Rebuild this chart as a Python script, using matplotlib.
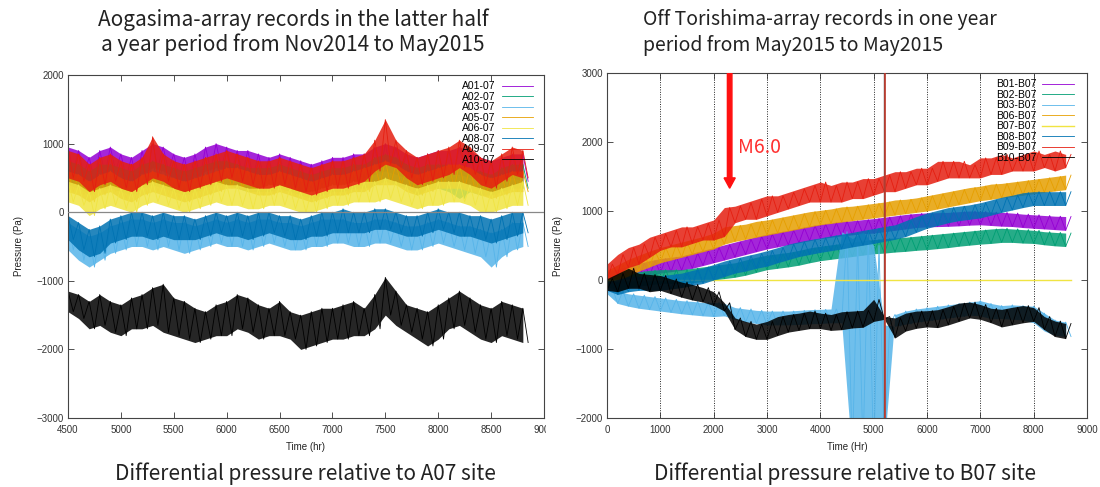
import numpy as np
import matplotlib
matplotlib.use('Agg')
import matplotlib.pyplot as plt
from matplotlib.patches import Rectangle

plt.rcParams['font.family'] = ['Liberation Sans', 'DejaVu Sans']

## Colours (gnuplot default palette)
colors = ['#9400d3', '#009e73', '#56b4e9', '#e69f00', '#f0e442', '#0072b2', '#e51e10', '#000000']

## ---------- Left panel: Aogasima array, 4500-8850 hr (50 hr steps) ----------
left_labels = ['A01-07', 'A02-07', 'A03-07', 'A05-07', 'A06-07', 'A08-07', 'A09-07', 'A10-07']
left_xticks = [4500, 5000, 5500, 6000, 6500, 7000, 7500, 8000, 8500, 9000]
left_yticks = [-3000, -2000, -1000, 0, 1000, 2000]

a01 = [950, 600, 900, 550, 800, 450, 900, 550, 950, 600,
       850, 500, 800, 450, 900, 550, 1000, 650, 950, 600,
       850, 500, 800, 450, 850, 500, 950, 600, 1000, 650,
       950, 600, 900, 550, 900, 500, 850, 500, 800, 450,
       850, 500, 800, 450, 750, 400, 700, 350, 750, 400,
       800, 450, 800, 450, 850, 500, 850, 500, 950, 550,
       1000, 600, 950, 550, 850, 500, 800, 450, 850, 500,
       900, 550, 900, 550, 950, 550, 900, 500, 800, 450,
       750, 400, 800, 450, 850, 500, 850, 450]
a02 = [750, 400, 700, 350, 600, 250, 700, 350, 700, 350,
       650, 300, 600, 250, 700, 350, 750, 400, 700, 350,
       650, 300, 600, 250, 650, 300, 700, 350, 750, 400,
       750, 400, 700, 350, 650, 300, 650, 300, 650, 300,
       700, 350, 650, 300, 600, 250, 550, 200, 600, 250,
       650, 300, 650, 300, 700, 350, 700, 350, 800, 400,
       850, 450, 800, 400, 700, 350, 650, 250, 700, 350,
       700, 350, 700, 300, 650, 200, 600, 300, 600, 250,
       550, 250, 650, 300, 700, 350, 700, 350]
a03 = [-150, -550, -250, -700, -350, -800, -300, -700, -200, -600,
       -150, -550, -100, -500, -100, -500, -150, -550, -100, -500,
       -150, -550, -150, -600, -200, -550, -150, -500, -100, -450,
       -150, -500, -100, -500, -150, -550, -100, -500, -100, -450,
       -150, -500, -150, -550, -200, -550, -150, -500, -100, -500,
       -100, -450, -100, -450, -150, -500, -150, -500, -100, -450,
       -100, -450, -150, -500, -200, -550, -200, -550, -150, -500,
       -100, -450, -150, -500, -200, -550, -200, -600, -250, -650,
       -300, -800, -250, -650, -150, -550, -150, -500]
a05 = [600, 300, 550, 250, 450, 150, 550, 250, 600, 300,
       500, 200, 450, 150, 550, 250, 600, 300, 550, 250,
       500, 200, 450, 150, 500, 200, 550, 250, 600, 300,
       650, 350, 650, 350, 600, 300, 550, 250, 550, 250,
       600, 300, 550, 250, 500, 200, 450, 150, 500, 200,
       550, 250, 550, 250, 600, 300, 650, 300, 700, 400,
       750, 400, 700, 400, 600, 300, 550, 250, 600, 300,
       650, 350, 700, 350, 700, 350, 650, 300, 550, 250,
       500, 200, 550, 250, 600, 300, 600, 300]
a06 = [450, 150, 400, 100, 300, -50, 350, 50, 400, 100,
       350, 50, 300, 0, 400, 100, 450, 150, 400, 100,
       350, 50, 300, 0, 350, 50, 400, 100, 450, 150,
       400, 100, 400, 100, 350, 50, 350, 50, 400, 100,
       400, 100, 350, 50, 300, 0, 300, 0, 350, 50,
       400, 100, 400, 100, 450, 150, 450, 150, 450, 150,
       500, 200, 450, 150, 400, 100, 350, 50, 400, 100,
       450, 100, 450, 150, 450, 150, 400, 100, 350, 0,
       300, 0, 350, 50, 400, 100, 450, 100]
a08 = [-50, -400, -150, -550, -250, -650, -200, -600, -100, -450,
       -50, -400, 0, -350, 0, -350, -50, -400, 0, -350,
       -50, -400, -50, -400, -100, -400, -50, -350, 0, -300,
       -50, -350, 0, -350, -50, -400, 0, -350, 0, -300,
       -50, -350, -50, -400, -100, -400, -50, -350, 0, -350,
       0, -300, 50, -300, 0, -300, 0, -300, 50, -250,
       50, -250, 0, -300, -50, -350, -50, -350, 0, -300,
       50, -250, 0, -300, 0, -350, -50, -350, -50, -400,
       -100, -450, -50, -400, 0, -350, 0, -300]
a09 = [900, 500, 850, 450, 700, 300, 800, 400, 850, 450,
       750, 350, 700, 300, 800, 400, 1100, 500, 850, 450,
       750, 350, 700, 300, 750, 350, 800, 400, 850, 450,
       900, 500, 850, 450, 800, 400, 750, 350, 750, 350,
       800, 400, 750, 350, 700, 300, 650, 250, 700, 300,
       750, 350, 750, 350, 800, 400, 850, 450, 1050, 600,
       1350, 700, 1050, 650, 900, 500, 800, 400, 850, 450,
       900, 500, 950, 550, 1050, 650, 950, 550, 800, 400,
       750, 350, 850, 450, 950, 550, 900, 500]
a10 = [-1150, -1450, -1200, -1550, -1300, -1700, -1200, -1650, -1300, -1750,
       -1350, -1800, -1250, -1700, -1200, -1700, -1100, -1650, -1050, -1750,
       -1250, -1800, -1300, -1850, -1400, -1900, -1450, -1850, -1350, -1800,
       -1300, -1800, -1200, -1700, -1250, -1750, -1350, -1850, -1400, -1800,
       -1300, -1800, -1450, -1850, -1500, -2000, -1450, -1950, -1400, -1900,
       -1400, -1850, -1350, -1850, -1300, -1800, -1400, -1800, -1200, -1700,
       -950, -1500, -1150, -1650, -1350, -1750, -1400, -1850, -1450, -1950,
       -1350, -1850, -1250, -1700, -1150, -1650, -1250, -1750, -1350, -1850,
       -1400, -1900, -1300, -1800, -1350, -1850, -1400, -1900]
left_series = [a01, a02, a03, a05, a06, a08, a09, a10]

## ---------- Right panel: Off Torishima array, 0-8700 hr (100 hr steps) ----------
right_labels = ['B01-B07', 'B02-B07', 'B03-B07', 'B06-B07', 'B07-B07', 'B08-B07', 'B09-B07', 'B10-B07']
right_xticks = [0, 1000, 2000, 3000, 4000, 5000, 6000, 7000, 8000, 9000]
right_yticks = [-2000, -1000, 0, 1000, 2000, 3000]

b01 = [0, 120, -60, 160, -20, 200, 20, 240, 60, 280,
       100, 310, 120, 330, 140, 350, 170, 390, 210, 430,
       250, 470, 290, 510, 330, 550, 370, 590, 410, 630,
       450, 665, 480, 695, 510, 720, 540, 755, 570, 785,
       600, 810, 620, 830, 640, 850, 655, 860, 670, 875,
       680, 890, 700, 910, 720, 930, 740, 950, 760, 965,
       770, 972, 774, 976, 778, 980, 785, 990, 795, 1000,
       800, 995, 790, 985, 780, 980, 775, 970, 760, 955,
       750, 945, 740, 935, 730, 925, 720, 920]
b02 = [-100, 20, -160, 60, -120, 100, -90, 120, -70, 140,
       -50, 150, -50, 150, -50, 150, -40, 170, -20, 190,
       0, 210, 20, 230, 40, 250, 70, 290, 110, 330,
       150, 360, 170, 380, 190, 400, 215, 430, 250, 465,
       280, 490, 300, 510, 320, 530, 340, 550, 360, 570,
       380, 585, 390, 600, 405, 610, 415, 620, 430, 635,
       440, 650, 455, 665, 470, 680, 490, 695, 505, 710,
       520, 725, 530, 740, 545, 750, 545, 740, 535, 730,
       530, 720, 510, 700, 495, 690, 485, 680]
b03 = [-200, -120, -340, -160, -380, -200, -410, -220, -430, -240,
       -450, -260, -470, -280, -490, -300, -505, -310, -520, -325,
       -530, -325, -520, -340, -570, -400, -610, -420, -630, -440,
       -650, -450, -650, -450, -650, -450, -645, -440, -635, -430,
       -630, -425, -620, -420, -620, 700, -2600, 600, -2500, 700,
       -2600, 500, -2400, -650, -500, -670, -450, -640, -420, -610,
       -400, -590, -380, -570, -360, -550, -340, -530, -320, -510,
       -300, -520, -340, -560, -370, -560, -360, -570, -370, -580,
       -380, -620, -480, -740, -580, -800, -610, -820]
b06 = [0, 140, -20, 220, 60, 300, 130, 360, 190, 420,
       250, 470, 290, 510, 330, 550, 370, 590, 410, 630,
       450, 680, 520, 770, 560, 790, 590, 810, 620, 850,
       650, 870, 680, 900, 710, 930, 740, 960, 770, 990,
       800, 1010, 820, 1030, 840, 1060, 860, 1070, 880, 1090,
       900, 1110, 920, 1130, 940, 1160, 960, 1170, 980, 1190,
       1000, 1220, 1030, 1250, 1060, 1280, 1090, 1310, 1120, 1340,
       1150, 1360, 1170, 1390, 1190, 1400, 1210, 1420, 1230, 1440,
       1250, 1460, 1270, 1480, 1290, 1500, 1310, 1520]
b07 = [0] * 88
b08 = [-150, -30, -210, 10, -170, 50, -150, 50, -150, 50,
       -150, 60, -130, 80, -110, 100, -80, 140, -50, 175,
       0, 225, 50, 275, 100, 315, 130, 350, 170, 385,
       200, 425, 250, 470, 295, 520, 340, 555, 370, 585,
       400, 610, 425, 640, 450, 665, 480, 690, 505, 720,
       530, 745, 560, 775, 590, 800, 630, 860, 690, 920,
       750, 970, 790, 1010, 830, 1050, 860, 1070, 880, 1090,
       900, 1120, 940, 1160, 980, 1200, 1015, 1230, 1050, 1265,
       1080, 1280, 1080, 1280, 1080, 1280, 1080, 1280]
b09 = [0, 230, 80, 370, 180, 470, 230, 520, 330, 620,
       430, 670, 480, 720, 480, 770, 530, 770, 580, 820,
       580, 870, 630, 1050, 830, 1070, 880, 1120, 880, 1170,
       930, 1220, 980, 1220, 1030, 1270, 1080, 1320, 1130, 1370,
       1130, 1420, 1130, 1370, 1130, 1420, 1180, 1420, 1180, 1470,
       1230, 1470, 1280, 1520, 1280, 1570, 1330, 1570, 1380, 1620,
       1380, 1620, 1430, 1720, 1480, 1720, 1480, 1720, 1480, 1670,
       1480, 1770, 1530, 1770, 1530, 1820, 1580, 1770, 1580, 1820,
       1580, 1870, 1630, 1820, 1580, 1870, 1630, 1820]
b10 = [-150, 20, -170, 95, -120, 170, -120, 95, -170, 80,
       -150, 65, -200, 15, -250, -30, -290, -65, -320, -110,
       -370, -170, -450, -330, -720, -550, -820, -600, -860, -640,
       -860, -600, -805, -530, -755, -500, -730, -480, -705, -450,
       -705, -480, -730, -500, -720, -460, -695, -450, -685, -440,
       -600, -280, -570, -530, -840, -550, -740, -480, -700, -450,
       -680, -445, -690, -430, -650, -385, -600, -335, -550, -320,
       -570, -355, -620, -410, -680, -425, -650, -395, -620, -370,
       -600, -400, -720, -530, -820, -595, -850, -630]
right_series = [b01, b02, b03, b06, b07, b08, b09, b10]

## Earthquake marker and event line
quake_time = 2300
quake_tip = 1330
event_times = [5185, 5210]

fig = plt.figure(figsize=(11, 4.87), dpi=100)
title_font = ['Noto Sans CJK JP', 'DejaVu Sans']


def style_axes(ax, xticks, yticks, xlabel):
    ax.set_xticks(xticks)
    ax.set_yticks(yticks)
    ax.set_xlim(xticks[0], xticks[-1])
    ax.set_ylim(yticks[0], yticks[-1])
    ax.tick_params(direction='in', top=True, right=True, labelsize=7, length=4,
                   width=0.6, colors='#333333')
    ax.tick_params(axis='x', pad=5)
    ax.tick_params(axis='y', pad=3)
    for sp in ax.spines.values():
        sp.set_color('#444444')
        sp.set_linewidth(0.8)
    ax.set_xlabel(xlabel, fontsize=7, labelpad=5, color='#222222')
    ax.set_ylabel('Pressure (Pa)', fontsize=7, labelpad=9, color='#222222')


def draw_noisy(ax, t, vals, c, lab):
    ## band between the peaks and troughs of the record, then the record itself
    ax.fill_between(t[0::2], vals[0::2], vals[1::2], color=c, alpha=0.85, lw=0, zorder=2)
    ax.plot(t, vals, color=c, lw=0.6, label=lab, zorder=2)


## ---- Left plot ----
ax1 = fig.add_axes([68 / 1100, 1 - 418 / 487, (544 - 68) / 1100, (418 - 75) / 487])
ax1.axhline(0, color='#888888', lw=0.9, zorder=3)
for vals, lab, c in zip(left_series, left_labels, colors):
    t = np.linspace(4500, 8850, len(vals))
    draw_noisy(ax1, t, vals, c, lab)
style_axes(ax1, left_xticks, left_yticks, 'Time (hr)')
ax1.legend(loc='upper right', frameon=False, markerfirst=False, fontsize=7.5,
           handlelength=3.0, labelspacing=0.05, borderaxespad=0.2,
           bbox_to_anchor=(0.99, 1.0), handletextpad=0.6)

## ---- Right plot ----
ax2 = fig.add_axes([607 / 1100, 1 - 418 / 487, (1087 - 607) / 1100, (418 - 73) / 487])
ax2.set_zorder(3)
ax2.grid(axis='x', linestyle=(0, (1, 1.5)), color='#222222', lw=0.7)
for vals, lab, c in zip(right_series, right_labels, colors):
    t = np.linspace(0, 8700, len(vals))
    if lab == 'B07-B07':
        ax2.plot(t, vals, color=c, lw=1.0, label=lab, zorder=2)
    else:
        draw_noisy(ax2, t, vals, c, lab)
ax2.axvline(event_times[0], color='#555555', lw=1.0, zorder=4)
ax2.axvline(event_times[1], color='#c0392b', lw=1.2, zorder=4)
style_axes(ax2, right_xticks, right_yticks, 'Time (Hr)')
ax2.legend(loc='upper right', frameon=False, markerfirst=False, fontsize=7.5,
           handlelength=3.0, labelspacing=0.05, borderaxespad=0.2,
           bbox_to_anchor=(0.985, 1.0), handletextpad=0.6)

## M6.0 arrow
ax2.arrow(quake_time, 3000, 0, quake_tip - 3000, width=85, head_width=210,
          head_length=150, length_includes_head=True, color='#ff1010', zorder=5)
ax2.text(2450, 1925, 'M6.0', color='#ff3030', fontsize=14, va='center',
         family=title_font, zorder=5)

## the slide cuts the left chart off just after the 9000 tick
fig.add_artist(Rectangle((546 / 1100, 0.1), 14 / 1100, 0.1, transform=fig.transFigure,
                         facecolor='white', edgecolor='none', zorder=2))

## Titles and captions
fig.text(293 / 1100, 1 - 20 / 487, 'Aogasima-array records in the latter half',
         ha='center', va='center', fontsize=15, family=title_font, color='#222222')
fig.text(293 / 1100, 1 - 45 / 487, 'a year period from Nov2014 to May2015',
         ha='center', va='center', fontsize=15, family=title_font, color='#222222')
fig.text(643 / 1100, 1 - 20 / 487, 'Off Torishima-array records in one year',
         ha='left', va='center', fontsize=14, family=title_font, color='#222222')
fig.text(643 / 1100, 1 - 45 / 487, 'period from May2015 to May2015',
         ha='left', va='center', fontsize=14, family=title_font, color='#222222')
fig.text(305 / 1100, 1 - 474 / 487, 'Differential pressure relative to A07 site',
         ha='center', va='center', fontsize=15, family=title_font, color='#222222')
fig.text(845 / 1100, 1 - 474 / 487, 'Differential pressure relative to B07 site',
         ha='center', va='center', fontsize=15, family=title_font, color='#222222')

plt.savefig('out.png', dpi=100)
